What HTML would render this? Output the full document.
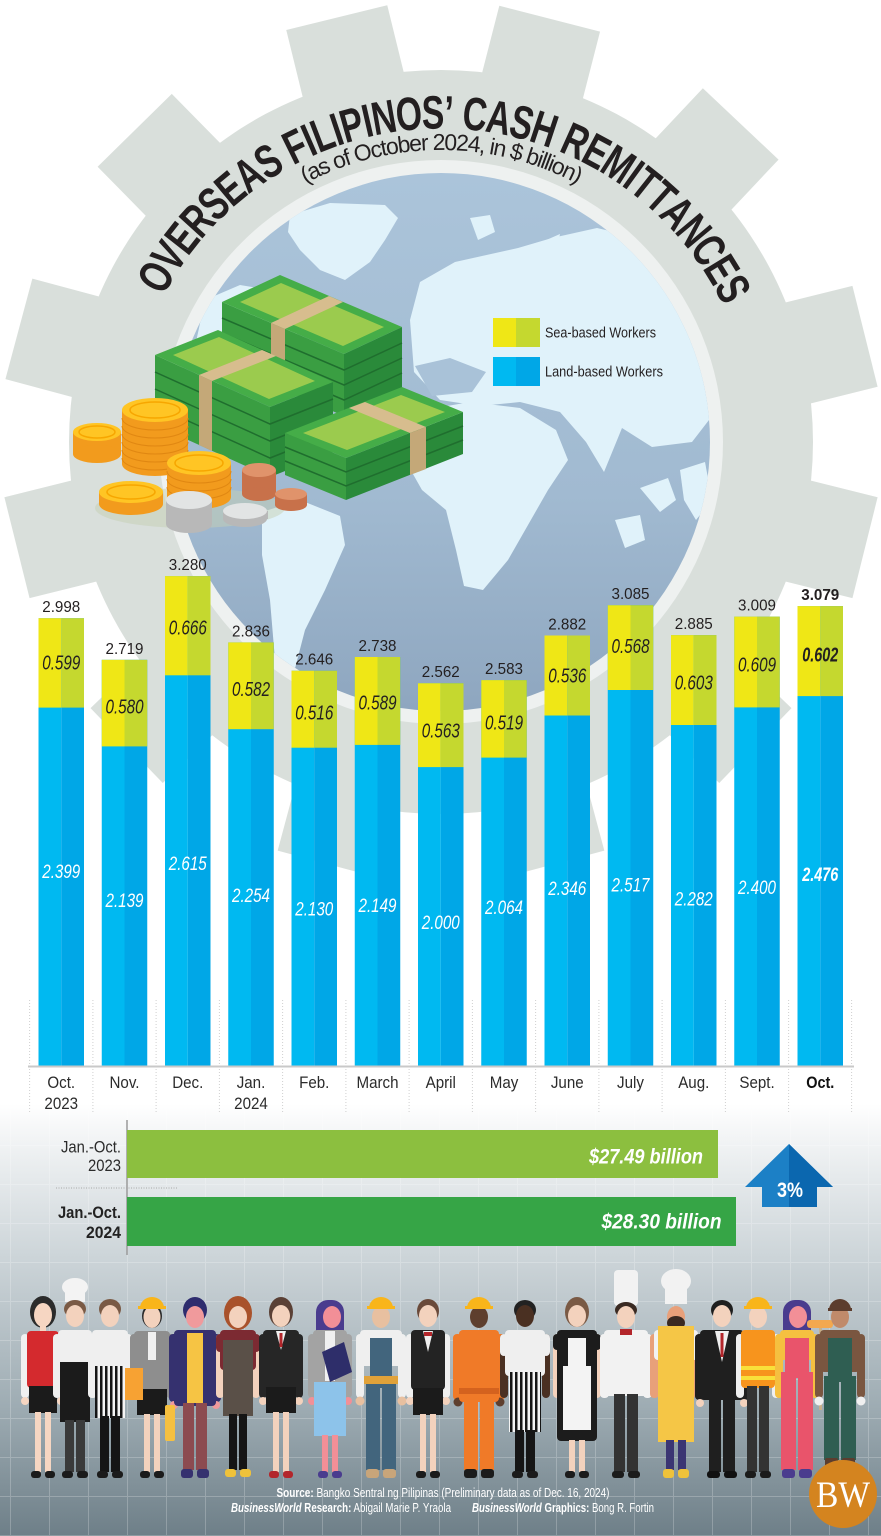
<!DOCTYPE html>
<html><head><meta charset="utf-8">
<style>
html,body{margin:0;padding:0;background:#fff;}
svg{display:block;}
text{font-family:"Liberation Sans",sans-serif;}
</style></head><body>
<svg width="881" height="1536" viewBox="0 0 881 1536" xmlns="http://www.w3.org/2000/svg">
<defs>
 <linearGradient id="bg" x1="0" y1="0" x2="0" y2="1">
  <stop offset="0" stop-color="#ffffff"/>
  <stop offset="0.08" stop-color="#f2f4f5"/>
  <stop offset="0.35" stop-color="#cdd5d9"/>
  <stop offset="0.7" stop-color="#9eacb3"/>
  <stop offset="1" stop-color="#6e7f88"/>
 </linearGradient>
 <pattern id="grid" width="39" height="39" patternUnits="userSpaceOnUse" x="10" y="1106">
  <path d="M0 0.5H39M0.5 0V39" stroke="#ffffff" stroke-opacity="0.22" fill="none"/>
 </pattern>
 <linearGradient id="ocean" x1="0" y1="0" x2="0" y2="1">
  <stop offset="0" stop-color="#abc4da"/>
  <stop offset="0.6" stop-color="#a1bad1"/>
  <stop offset="1" stop-color="#8ea6bf"/>
 </linearGradient>
 <pattern id="stripe" width="5" height="10" patternUnits="userSpaceOnUse"><rect width="5" height="10" fill="#f4f4f4"/><rect width="2.5" height="10" fill="#151515"/></pattern>
 <clipPath id="globeclip"><circle cx="441" cy="442" r="269"/></clipPath>
</defs>

<!-- background -->
<rect x="0" y="0" width="881" height="1536" fill="#ffffff"/>
<rect x="0" y="1104" width="881" height="432" fill="url(#bg)"/>
<rect x="0" y="1104" width="881" height="432" fill="url(#grid)"/>

<!-- gear -->
<g fill="#d9dfdb">
 <circle cx="441" cy="442" r="372"/>
 <rect x="389" y="5" width="104" height="80" transform="rotate(-13.8 441 442)"/>
 <rect x="389" y="5" width="104" height="80" transform="rotate(14.4 441 442)"/>
 <rect x="389" y="5" width="104" height="80" transform="rotate(-44.5 441 442)"/>
 <rect x="389" y="5" width="104" height="80" transform="rotate(43.3 441 442)"/>
 <rect x="389" y="5" width="104" height="80" transform="rotate(-75 441 442)"/>
 <rect x="389" y="5" width="104" height="80" transform="rotate(76 441 442)"/>
 <rect x="389" y="5" width="104" height="80" transform="rotate(-104 441 442)"/>
 <rect x="389" y="5" width="104" height="80" transform="rotate(104 441 442)"/>
 <rect x="389" y="5" width="104" height="80" transform="rotate(-134 441 442)"/>
 <rect x="389" y="5" width="104" height="80" transform="rotate(134 441 442)"/>
 <rect x="389" y="5" width="104" height="80" transform="rotate(-165 441 442)"/>
 <rect x="389" y="5" width="104" height="80" transform="rotate(165 441 442)"/>
</g>
<circle cx="441" cy="442" r="282" fill="#eef1f0"/>
<circle cx="441" cy="442" r="269" fill="url(#ocean)"/>
<g clip-path="url(#globeclip)" fill="#e0f2fa">
 <path d="M420,282 L455,262 L518,248 L552,238 L597,228 L640,238 L675,258 L700,285 L716,330 L709,420 L692,442 L652,447 L622,428 L604,472 L586,442 L560,412 L520,402 L480,406 L440,400 L414,372 L410,320 Z"/>
 <path d="M290,215 L330,203 L385,205 L398,218 L385,240 L370,262 L345,280 L320,270 L300,250 L288,232 Z"/>
 <path d="M205,300 L240,285 L270,290 L290,300 L300,330 L280,360 L250,380 L215,385 L190,370 Z"/>
 <path d="M470,218 L490,215 L495,232 L478,240 Z"/>
 <path d="M535,245 L560,234 L556,254 L540,256 Z"/>
 <path d="M413,412 L470,402 L520,408 L556,430 L568,460 L548,490 L528,525 L508,560 L483,590 L464,586 L456,550 L446,510 L422,490 L405,460 Z"/>
 <path d="M262,512 L300,500 L340,516 L345,545 L325,590 L305,630 L292,680 L283,702 L275,660 L270,600 L262,555 Z"/>
 <path d="M640,488 L668,478 L676,500 L660,512 Z"/>
 <path d="M680,470 L705,462 L712,500 L696,520 L684,500 Z"/>
 <path d="M615,520 L640,515 L645,540 L625,548 Z"/>
</g>
<g clip-path="url(#globeclip)" fill="#a9c2d8">
 <path d="M415,366 L450,358 L486,372 L472,392 L432,396 Z"/>
</g>

<!-- title -->
<g font-size="47" font-weight="bold" fill="#231f20" text-anchor="middle">
 <text transform="rotate(-59.9 441 442) translate(441 128.5) scale(.717 1)">O</text>
 <text transform="rotate(-55.67 441 442) translate(441 128.5) scale(.717 1)">V</text>
 <text transform="rotate(-51.77 441 442) translate(441 128.5) scale(.717 1)">E</text>
 <text transform="rotate(-47.71 441 442) translate(441 128.5) scale(.717 1)">R</text>
 <text transform="rotate(-43.65 441 442) translate(441 128.5) scale(.717 1)">S</text>
 <text transform="rotate(-39.74 441 442) translate(441 128.5) scale(.717 1)">E</text>
 <text transform="rotate(-35.68 441 442) translate(441 128.5) scale(.717 1)">A</text>
 <text transform="rotate(-31.62 441 442) translate(441 128.5) scale(.717 1)">S</text>
 <text transform="rotate(-26.25 441 442) translate(441 128.5) scale(.717 1)">F</text>
 <text transform="rotate(-23.65 441 442) translate(441 128.5) scale(.717 1)">I</text>
 <text transform="rotate(-21.05 441 442) translate(441 128.5) scale(.717 1)">L</text>
 <text transform="rotate(-18.45 441 442) translate(441 128.5) scale(.717 1)">I</text>
 <text transform="rotate(-15.69 441 442) translate(441 128.5) scale(.717 1)">P</text>
 <text transform="rotate(-12.92 441 442) translate(441 128.5) scale(.717 1)">I</text>
 <text transform="rotate(-10.0 441 442) translate(441 128.5) scale(.717 1)">N</text>
 <text transform="rotate(-5.61 441 442) translate(441 128.5) scale(.717 1)">O</text>
 <text transform="rotate(-1.39 441 442) translate(441 128.5) scale(.717 1)">S</text>
 <text transform="rotate(1.38 441 442) translate(441 128.5) scale(.717 1)">’</text>
 <text transform="rotate(5.93 441 442) translate(441 128.5) scale(.717 1)">C</text>
 <text transform="rotate(10.15 441 442) translate(441 128.5) scale(.717 1)">A</text>
 <text transform="rotate(14.22 441 442) translate(441 128.5) scale(.717 1)">S</text>
 <text transform="rotate(18.28 441 442) translate(441 128.5) scale(.717 1)">H</text>
 <text transform="rotate(24.13 441 442) translate(441 128.5) scale(.717 1)">R</text>
 <text transform="rotate(28.19 441 442) translate(441 128.5) scale(.717 1)">E</text>
 <text transform="rotate(32.58 441 442) translate(441 128.5) scale(.717 1)">M</text>
 <text transform="rotate(35.83 441 442) translate(441 128.5) scale(.717 1)">I</text>
 <text transform="rotate(38.43 441 442) translate(441 128.5) scale(.717 1)">T</text>
 <text transform="rotate(42.0 441 442) translate(441 128.5) scale(.717 1)">T</text>
 <text transform="rotate(45.9 441 442) translate(441 128.5) scale(.717 1)">A</text>
 <text transform="rotate(50.13 441 442) translate(441 128.5) scale(.717 1)">N</text>
 <text transform="rotate(54.35 441 442) translate(441 128.5) scale(.717 1)">C</text>
 <text transform="rotate(58.41 441 442) translate(441 128.5) scale(.717 1)">E</text>
 <text transform="rotate(62.32 441 442) translate(441 128.5) scale(.717 1)">S</text>
</g>
<path id="subarc" d="M150 441 A291 291 0 0 1 732 441" fill="none"/>
<text font-size="23" fill="#231f20" letter-spacing="-1.3"><textPath href="#subarc" startOffset="50%" text-anchor="middle">(as of October 2024, in $ billion)</textPath></text>

<!-- legend -->
<rect x="493" y="318" width="23" height="29" fill="#efe716"/><rect x="516" y="318" width="24" height="29" fill="#c5d82f"/>
<rect x="493" y="357" width="23" height="29" fill="#00b9f1"/><rect x="516" y="357" width="24" height="29" fill="#00a7e7"/>
<text x="545" y="337.5" font-size="15" fill="#231f20" textLength="111" lengthAdjust="spacingAndGlyphs">Sea-based Workers</text>
<text x="545" y="376.5" font-size="15" fill="#231f20" textLength="118" lengthAdjust="spacingAndGlyphs">Land-based Workers</text>

<!-- money stacks -->
<g>
 <polygon points="344,354 402,327 402,389 344,416" fill="#2a8a3a"/>
 <polygon points="222,302 344,354 344,416 222,364" fill="#3a9e42"/>
 <g stroke="#1f6e2e" stroke-width="1.5" fill="none">
  <polyline points="222,318 344,370 402,343"/><polyline points="222,333 344,385 402,358"/><polyline points="222,348 344,400 402,373"/>
 </g>
 <polygon points="222,302 280,275 402,327 344,354" fill="#45ad48"/>
 <polygon points="240,302 281,283 384,327 343,346" fill="#9bcb4e"/>
 <polygon points="271,323 285,329 343,302 329,296" fill="#d7bd8e"/>
 <polygon points="271,323 285,329 285,391 271,385" fill="#c4a878"/>
 <polygon points="270,407 333,382 333,452 270,477" fill="#2a8a3a"/>
 <polygon points="155,355 270,407 270,477 155,425" fill="#3a9e42"/>
 <g stroke="#1f6e2e" stroke-width="1.5" fill="none">
  <polyline points="155,372 270,424 333,399"/><polyline points="155,389 270,441 333,416"/><polyline points="155,406 270,458 333,433"/>
 </g>
 <polygon points="155,355 218,330 333,382 270,407" fill="#45ad48"/>
 <polygon points="173,355 219,337 315,381 269,399" fill="#9bcb4e"/>
 <polygon points="199,375 212,381 276,356 262,350" fill="#d7bd8e"/>
 <polygon points="199,375 212,381 212,451 199,445" fill="#c4a878"/>
 <polygon points="346,458 463,412 463,454 346,500" fill="#2a8a3a"/>
 <polygon points="285,433 346,458 346,500 285,475" fill="#3a9e42"/>
 <g stroke="#1f6e2e" stroke-width="1.5" fill="none">
  <polyline points="285,447 346,472 463,426"/><polyline points="285,461 346,486 463,440"/>
 </g>
 <polygon points="285,433 402,387 463,412 346,458" fill="#45ad48"/>
 <polygon points="303,433 401,395 445,412 347,450" fill="#9bcb4e"/>
 <polygon points="349,408 365,402 426,427 410,433" fill="#d7bd8e"/>
 <polygon points="410,433 426,427 426,469 410,475" fill="#c4a878"/>
</g>
<!-- coins -->
<ellipse cx="190" cy="508" rx="95" ry="20" fill="#c5d0b4" opacity="0.5"/>
<g>
 <rect x="122" y="410" width="66" height="54" fill="#f29b1d"/>
 <ellipse cx="155" cy="464" rx="33" ry="12" fill="#f29b1d"/>
 <g stroke="#e08712" stroke-width="1" fill="none">
  <path d="M122 418 A33 12 0 0 0 188 418"/><path d="M122 426 A33 12 0 0 0 188 426"/><path d="M122 434 A33 12 0 0 0 188 434"/><path d="M122 442 A33 12 0 0 0 188 442"/><path d="M122 450 A33 12 0 0 0 188 450"/><path d="M122 458 A33 12 0 0 0 188 458"/>
 </g>
 <ellipse cx="155" cy="410" rx="33" ry="12" fill="#ffc524"/>
 <ellipse cx="155" cy="410" rx="25" ry="8" fill="none" stroke="#f7a600" stroke-width="1.5"/>
 <rect x="73" y="432" width="48" height="22" fill="#f29b1d"/>
 <ellipse cx="97" cy="454" rx="24" ry="9" fill="#f29b1d"/>
 <ellipse cx="97" cy="432" rx="24" ry="9" fill="#ffc524"/>
 <ellipse cx="97" cy="432" rx="18" ry="6" fill="none" stroke="#f7a600" stroke-width="1.5"/>
 <rect x="242" y="470" width="34" height="24" fill="#c8714a"/>
 <ellipse cx="259" cy="494" rx="17" ry="7" fill="#c8714a"/>
 <ellipse cx="259" cy="470" rx="17" ry="7" fill="#e0936b"/>
 <rect x="167" y="463" width="64" height="34" fill="#f29b1d"/>
 <ellipse cx="199" cy="497" rx="32" ry="12" fill="#f29b1d"/>
 <g stroke="#e08712" stroke-width="1" fill="none">
  <path d="M167 471 A32 12 0 0 0 231 471"/><path d="M167 479 A32 12 0 0 0 231 479"/><path d="M167 487 A32 12 0 0 0 231 487"/>
 </g>
 <ellipse cx="199" cy="463" rx="32" ry="12" fill="#ffc524"/>
 <ellipse cx="199" cy="463" rx="24" ry="8" fill="none" stroke="#f7a600" stroke-width="1.5"/>
 <rect x="99" y="492" width="64" height="12" fill="#f29b1d"/>
 <ellipse cx="131" cy="504" rx="32" ry="11" fill="#f29b1d"/>
 <ellipse cx="131" cy="492" rx="32" ry="11" fill="#ffc524"/>
 <ellipse cx="131" cy="492" rx="24" ry="7" fill="none" stroke="#f7a600" stroke-width="1.5"/>
 <rect x="166" y="500" width="46" height="24" fill="#b8b8b8"/>
 <ellipse cx="189" cy="524" rx="23" ry="9" fill="#b8b8b8"/>
 <ellipse cx="189" cy="500" rx="23" ry="9" fill="#e2e4e4"/>
 <rect x="223" y="511" width="45" height="8" fill="#b8b8b8"/>
 <ellipse cx="245" cy="519" rx="22" ry="8" fill="#b8b8b8"/>
 <ellipse cx="245" cy="511" rx="22" ry="8" fill="#e2e4e4"/>
 <rect x="275" y="494" width="32" height="11" fill="#c8714a"/>
 <ellipse cx="291" cy="505" rx="16" ry="6" fill="#c8714a"/>
 <ellipse cx="291" cy="494" rx="16" ry="6" fill="#e0936b"/>
</g>

<!-- dotted separators -->
<g stroke="#cfcfcf" stroke-width="1" stroke-dasharray="1 2">
 <line x1="29.6" y1="1000" x2="29.6" y2="1112"/>
 <line x1="92.9" y1="1000" x2="92.9" y2="1112"/>
 <line x1="156.1" y1="1000" x2="156.1" y2="1112"/>
 <line x1="219.4" y1="1000" x2="219.4" y2="1112"/>
 <line x1="282.6" y1="1000" x2="282.6" y2="1112"/>
 <line x1="345.9" y1="1000" x2="345.9" y2="1112"/>
 <line x1="409.1" y1="1000" x2="409.1" y2="1112"/>
 <line x1="472.4" y1="1000" x2="472.4" y2="1112"/>
 <line x1="535.6" y1="1000" x2="535.6" y2="1112"/>
 <line x1="598.9" y1="1000" x2="598.9" y2="1112"/>
 <line x1="662.1" y1="1000" x2="662.1" y2="1112"/>
 <line x1="725.4" y1="1000" x2="725.4" y2="1112"/>
 <line x1="788.6" y1="1000" x2="788.6" y2="1112"/>
 <line x1="851.6" y1="1000" x2="851.6" y2="1112"/>
</g>

<!-- bars -->
<g>
 <rect x="38.5" y="618.2" width="22.75" height="447.3" fill="#00b9f1"/><rect x="61.25" y="618.2" width="22.75" height="447.3" fill="#00a7e7"/>
 <rect x="38.5" y="618.2" width="22.75" height="89.4" fill="#efe716"/><rect x="61.25" y="618.2" width="22.75" height="89.4" fill="#c5d82f"/>
 <rect x="101.75" y="659.8" width="22.75" height="405.7" fill="#00b9f1"/><rect x="124.5" y="659.8" width="22.75" height="405.7" fill="#00a7e7"/>
 <rect x="101.75" y="659.8" width="22.75" height="86.6" fill="#efe716"/><rect x="124.5" y="659.8" width="22.75" height="86.6" fill="#c5d82f"/>
 <rect x="165" y="576.1" width="22.75" height="489.4" fill="#00b9f1"/><rect x="187.75" y="576.1" width="22.75" height="489.4" fill="#00a7e7"/>
 <rect x="165" y="576.1" width="22.75" height="99.2" fill="#efe716"/><rect x="187.75" y="576.1" width="22.75" height="99.2" fill="#c5d82f"/>
 <rect x="228.25" y="642.4" width="22.75" height="423.1" fill="#00b9f1"/><rect x="251" y="642.4" width="22.75" height="423.1" fill="#00a7e7"/>
 <rect x="228.25" y="642.4" width="22.75" height="86.8" fill="#efe716"/><rect x="251" y="642.4" width="22.75" height="86.8" fill="#c5d82f"/>
 <rect x="291.5" y="670.7" width="22.75" height="394.8" fill="#00b9f1"/><rect x="314.25" y="670.7" width="22.75" height="394.8" fill="#00a7e7"/>
 <rect x="291.5" y="670.7" width="22.75" height="77" fill="#efe716"/><rect x="314.25" y="670.7" width="22.75" height="77" fill="#c5d82f"/>
 <rect x="354.75" y="657" width="22.75" height="408.5" fill="#00b9f1"/><rect x="377.5" y="657" width="22.75" height="408.5" fill="#00a7e7"/>
 <rect x="354.75" y="657" width="22.75" height="87.9" fill="#efe716"/><rect x="377.5" y="657" width="22.75" height="87.9" fill="#c5d82f"/>
 <rect x="418" y="683.2" width="22.75" height="382.3" fill="#00b9f1"/><rect x="440.75" y="683.2" width="22.75" height="382.3" fill="#00a7e7"/>
 <rect x="418" y="683.2" width="22.75" height="83.9" fill="#efe716"/><rect x="440.75" y="683.2" width="22.75" height="83.9" fill="#c5d82f"/>
 <rect x="481.25" y="680.1" width="22.75" height="385.4" fill="#00b9f1"/><rect x="504" y="680.1" width="22.75" height="385.4" fill="#00a7e7"/>
 <rect x="481.25" y="680.1" width="22.75" height="77.5" fill="#efe716"/><rect x="504" y="680.1" width="22.75" height="77.5" fill="#c5d82f"/>
 <rect x="544.5" y="635.5" width="22.75" height="430" fill="#00b9f1"/><rect x="567.25" y="635.5" width="22.75" height="430" fill="#00a7e7"/>
 <rect x="544.5" y="635.5" width="22.75" height="80" fill="#efe716"/><rect x="567.25" y="635.5" width="22.75" height="80" fill="#c5d82f"/>
 <rect x="607.75" y="605.2" width="22.75" height="460.3" fill="#00b9f1"/><rect x="630.5" y="605.2" width="22.75" height="460.3" fill="#00a7e7"/>
 <rect x="607.75" y="605.2" width="22.75" height="84.8" fill="#efe716"/><rect x="630.5" y="605.2" width="22.75" height="84.8" fill="#c5d82f"/>
 <rect x="671" y="635.1" width="22.75" height="430.4" fill="#00b9f1"/><rect x="693.75" y="635.1" width="22.75" height="430.4" fill="#00a7e7"/>
 <rect x="671" y="635.1" width="22.75" height="89.9" fill="#efe716"/><rect x="693.75" y="635.1" width="22.75" height="89.9" fill="#c5d82f"/>
 <rect x="734.25" y="616.6" width="22.75" height="448.9" fill="#00b9f1"/><rect x="757" y="616.6" width="22.75" height="448.9" fill="#00a7e7"/>
 <rect x="734.25" y="616.6" width="22.75" height="90.8" fill="#efe716"/><rect x="757" y="616.6" width="22.75" height="90.8" fill="#c5d82f"/>
 <rect x="797.5" y="606.1" width="22.75" height="459.4" fill="#00b9f1"/><rect x="820.25" y="606.1" width="22.75" height="459.4" fill="#00a7e7"/>
 <rect x="797.5" y="606.1" width="22.75" height="90" fill="#efe716"/><rect x="820.25" y="606.1" width="22.75" height="90" fill="#c5d82f"/>
</g>
<line x1="28" y1="1066.5" x2="854" y2="1066.5" stroke="#c9c9c9" stroke-width="2"/>

<!-- total labels -->
<g font-size="16" fill="#231f20" text-anchor="middle">
 <text transform="translate(61.25 612.2) scale(.95 1)">2.998</text>
 <text transform="translate(124.5 653.8) scale(.95 1)">2.719</text>
 <text transform="translate(187.75 570.1) scale(.95 1)">3.280</text>
 <text transform="translate(251 636.4) scale(.95 1)">2.836</text>
 <text transform="translate(314.25 664.7) scale(.95 1)">2.646</text>
 <text transform="translate(377.5 651) scale(.95 1)">2.738</text>
 <text transform="translate(440.75 677.2) scale(.95 1)">2.562</text>
 <text transform="translate(504 674.1) scale(.95 1)">2.583</text>
 <text transform="translate(567.25 629.5) scale(.95 1)">2.882</text>
 <text transform="translate(630.5 599.2) scale(.95 1)">3.085</text>
 <text transform="translate(693.75 629.1) scale(.95 1)">2.885</text>
 <text transform="translate(757 610.6) scale(.95 1)">3.009</text>
 <text transform="translate(820.25 600.1) scale(.95 1)" font-weight="bold">3.079</text>
</g>
<g font-size="20" font-style="italic" fill="#231f20" text-anchor="middle">
 <text transform="translate(61.25 669.7) scale(.76 1)">0.599</text>
 <text transform="translate(124.5 713.7) scale(.76 1)">0.580</text>
 <text transform="translate(187.75 634.3) scale(.76 1)">0.666</text>
 <text transform="translate(251 696) scale(.76 1)">0.582</text>
 <text transform="translate(314.25 719.7) scale(.76 1)">0.516</text>
 <text transform="translate(377.5 709.7) scale(.76 1)">0.589</text>
 <text transform="translate(440.75 737.7) scale(.76 1)">0.563</text>
 <text transform="translate(504 729.7) scale(.76 1)">0.519</text>
 <text transform="translate(567.25 682.7) scale(.76 1)">0.536</text>
 <text transform="translate(630.5 653) scale(.76 1)">0.568</text>
 <text transform="translate(693.75 689.3) scale(.76 1)">0.603</text>
 <text transform="translate(757 671.7) scale(.76 1)">0.609</text>
 <text transform="translate(820.25 661.3) scale(.72 1)" font-weight="bold">0.602</text>
</g>
<g font-size="19" font-style="italic" fill="#ffffff" text-anchor="middle">
 <text transform="translate(61.25 878.2) scale(.8 1)">2.399</text>
 <text transform="translate(124.5 907.2) scale(.8 1)">2.139</text>
 <text transform="translate(187.75 869.8) scale(.8 1)">2.615</text>
 <text transform="translate(251 902.2) scale(.8 1)">2.254</text>
 <text transform="translate(314.25 915.5) scale(.8 1)">2.130</text>
 <text transform="translate(377.5 912.2) scale(.8 1)">2.149</text>
 <text transform="translate(440.75 929.2) scale(.8 1)">2.000</text>
 <text transform="translate(504 913.8) scale(.8 1)">2.064</text>
 <text transform="translate(567.25 894.8) scale(.8 1)">2.346</text>
 <text transform="translate(630.5 891.5) scale(.8 1)">2.517</text>
 <text transform="translate(693.75 905.5) scale(.8 1)">2.282</text>
 <text transform="translate(757 894.2) scale(.8 1)">2.400</text>
 <text transform="translate(820.25 880.8) scale(.76 1)" font-weight="bold">2.476</text>
</g>

<!-- month labels -->
<g font-size="17" fill="#2b2b2b" text-anchor="middle">
 <text transform="translate(61.25 1088) scale(.89 1)">Oct.</text>
 <text transform="translate(61.25 1109) scale(.89 1)">2023</text>
 <text transform="translate(124.5 1088) scale(.89 1)">Nov.</text>
 <text transform="translate(187.75 1088) scale(.89 1)">Dec.</text>
 <text transform="translate(251 1088) scale(.89 1)">Jan.</text>
 <text transform="translate(251 1109) scale(.89 1)">2024</text>
 <text transform="translate(314.25 1088) scale(.89 1)">Feb.</text>
 <text transform="translate(377.5 1088) scale(.89 1)">March</text>
 <text transform="translate(440.75 1088) scale(.89 1)">April</text>
 <text transform="translate(504 1088) scale(.89 1)">May</text>
 <text transform="translate(567.25 1088) scale(.89 1)">June</text>
 <text transform="translate(630.5 1088) scale(.89 1)">July</text>
 <text transform="translate(693.75 1088) scale(.89 1)">Aug.</text>
 <text transform="translate(757 1088) scale(.89 1)">Sept.</text>
 <text transform="translate(820.25 1088) scale(.85 1)" font-weight="bold" fill="#111">Oct.</text>
</g>

<!-- totals -->
<line x1="127" y1="1120" x2="127" y2="1255" stroke="#9a9a9a" stroke-width="1.5"/>
<line x1="56" y1="1188" x2="178" y2="1188" stroke="#a8a8a8" stroke-width="1" stroke-dasharray="1 1.5"/>
<rect x="127" y="1130" width="591" height="48" fill="#8cbf3f"/>
<rect x="127" y="1197" width="609" height="49" fill="#36a546"/>
<text x="703" y="1163.5" font-size="21" font-weight="bold" font-style="italic" fill="#ffffff" text-anchor="end" textLength="114" lengthAdjust="spacingAndGlyphs">$27.49 billion</text>
<text x="721.5" y="1228.5" font-size="21" font-weight="bold" font-style="italic" fill="#ffffff" text-anchor="end" textLength="120" lengthAdjust="spacingAndGlyphs">$28.30 billion</text>
<g font-size="17" fill="#2b2b2b" text-anchor="end">
 <text x="121" y="1152.5" textLength="60" lengthAdjust="spacingAndGlyphs">Jan.-Oct.</text>
 <text x="121" y="1171" textLength="33" lengthAdjust="spacingAndGlyphs">2023</text>
 <text x="121" y="1218" font-weight="bold" fill="#222" textLength="63" lengthAdjust="spacingAndGlyphs">Jan.-Oct.</text>
 <text x="121" y="1238" font-weight="bold" fill="#222" textLength="35" lengthAdjust="spacingAndGlyphs">2024</text>
</g>
<polygon points="789,1144 745,1187 762,1187 762,1207 817,1207 817,1187 833,1187" fill="#1c80c6"/>
<polygon points="789,1144 789,1207 817,1207 817,1187 833,1187" fill="#0b67af"/>
<text x="790" y="1197" font-size="21" font-weight="bold" fill="#ffffff" text-anchor="middle" textLength="26" lengthAdjust="spacingAndGlyphs">3%</text>

<!-- people -->
<g>
 <g transform="translate(43 0)">
  <ellipse cx="0" cy="1312" rx="13" ry="16" fill="#2b2b2b"/>
  <rect x="-3" y="1325" width="6" height="9" fill="#f6d6c2"/>
  <ellipse cx="0" cy="1315" rx="9" ry="12" fill="#f6d6c2"/>
  <rect x="-22" y="1334" width="8" height="64" rx="4" fill="#f0f0f0"/><rect x="14" y="1334" width="8" height="64" rx="4" fill="#f0f0f0"/>
  <circle cx="-18" cy="1401" r="4" fill="#f6d6c2"/><circle cx="18" cy="1401" r="4" fill="#f6d6c2"/>
  <rect x="-16" y="1331" width="32" height="57" rx="4" fill="#d42a2e"/>
  <rect x="-14" y="1386" width="28" height="27" fill="#1b1b1b"/>
  <rect x="-8" y="1412" width="6" height="60" fill="#f6d6c2"/><rect x="2" y="1412" width="6" height="60" fill="#f6d6c2"/>
  <rect x="-12" y="1471" width="10" height="7" rx="3" fill="#1b1b1b"/><rect x="2" y="1471" width="10" height="7" rx="3" fill="#1b1b1b"/>
 </g>
 <g transform="translate(75 0)">
  <rect x="-10" y="1286" width="20" height="16" fill="#f3f3f3"/><ellipse cx="0" cy="1287" rx="13" ry="9" fill="#f3f3f3"/>
  <ellipse cx="0" cy="1309" rx="11" ry="9" fill="#7a5a45"/>
  <ellipse cx="0" cy="1316" rx="9" ry="11" fill="#f3d2bd"/>
  <rect x="-22" y="1334" width="8" height="64" rx="4" fill="#efefef"/><rect x="14" y="1334" width="8" height="64" rx="4" fill="#efefef"/>
  <rect x="-17" y="1330" width="34" height="42" rx="4" fill="#efefef"/>
  <rect x="-15" y="1362" width="30" height="60" fill="#1b1b1b"/>
  <rect x="-10" y="1420" width="9" height="52" fill="#3a3a3a"/><rect x="1" y="1420" width="9" height="52" fill="#3a3a3a"/>
  <rect x="-13" y="1471" width="11" height="7" rx="3" fill="#1b1b1b"/><rect x="2" y="1471" width="11" height="7" rx="3" fill="#1b1b1b"/>
 </g>
 <g transform="translate(110 0)">
  <ellipse cx="0" cy="1309" rx="11" ry="10" fill="#7a5a45"/>
  <ellipse cx="0" cy="1316" rx="9" ry="11" fill="#f3d2bd"/>
  <rect x="-22" y="1334" width="8" height="64" rx="4" fill="#efefef"/><rect x="14" y="1334" width="8" height="64" rx="4" fill="#efefef"/>
  <rect x="-18" y="1330" width="36" height="40" rx="4" fill="#efefef"/>
  <rect x="-15" y="1366" width="30" height="52" fill="url(#stripe)"/>
  <rect x="-10" y="1416" width="9" height="56" fill="#151515"/><rect x="1" y="1416" width="9" height="56" fill="#151515"/>
  <rect x="-13" y="1471" width="11" height="7" rx="3" fill="#1b1b1b"/><rect x="2" y="1471" width="11" height="7" rx="3" fill="#1b1b1b"/>
 </g>
 <g transform="translate(152 0)">
  <ellipse cx="0" cy="1316" rx="10" ry="12" fill="#2b2b2b"/>
  <ellipse cx="0" cy="1317" rx="8.5" ry="11" fill="#f3d2bd"/>
  <path d="M-12 1308 A12 11 0 0 1 12 1308 Z" fill="#f9b51a"/><rect x="-14" y="1306" width="28" height="3" fill="#f9b51a"/>
  <rect x="-22" y="1334" width="8" height="64" rx="4" fill="#8e8e8e"/><rect x="14" y="1334" width="8" height="64" rx="4" fill="#8e8e8e"/>
  <rect x="-18" y="1331" width="36" height="60" rx="4" fill="#8e8e8e"/>
  <rect x="-4" y="1332" width="8" height="28" fill="#f0f0f0"/>
  <rect x="-15" y="1389" width="30" height="26" fill="#1b1b1b"/>
  <rect x="-8" y="1414" width="6" height="58" fill="#f3d2bd"/><rect x="2" y="1414" width="6" height="58" fill="#f3d2bd"/>
  <rect x="-12" y="1471" width="10" height="7" rx="3" fill="#1b1b1b"/><rect x="2" y="1471" width="10" height="7" rx="3" fill="#1b1b1b"/>
  <rect x="-27" y="1368" width="18" height="32" fill="#f7a233"/>
 </g>
 <g transform="translate(195 0)">
  <ellipse cx="0" cy="1310" rx="12" ry="13" fill="#2e2c6e"/>
  <ellipse cx="0" cy="1317" rx="9" ry="11" fill="#f09a9c"/>
  <rect x="-26" y="1334" width="9" height="68" rx="4" fill="#35316f"/><rect x="17" y="1334" width="9" height="68" rx="4" fill="#35316f"/>
  <circle cx="-21" cy="1405" r="4" fill="#f09a9c"/><circle cx="21" cy="1405" r="4" fill="#f09a9c"/>
  <rect x="-21" y="1330" width="42" height="76" rx="4" fill="#35316f"/>
  <rect x="-8" y="1333" width="16" height="70" fill="#f6c444"/>
  <rect x="-12" y="1403" width="11" height="67" fill="#8c4b50"/><rect x="1" y="1403" width="11" height="67" fill="#8c4b50"/>
  <rect x="-14" y="1469" width="12" height="9" rx="3" fill="#35316f"/><rect x="2" y="1469" width="12" height="9" rx="3" fill="#35316f"/>
  <rect x="-30" y="1405" width="10" height="36" rx="2" fill="#f5c040"/>
 </g>
 <g transform="translate(238 0)">
  <ellipse cx="0" cy="1313" rx="14" ry="17" fill="#a9522b"/>
  <ellipse cx="0" cy="1317" rx="9" ry="11" fill="#f3d2bd"/>
  <rect x="-22" y="1334" width="8" height="64" rx="4" fill="#f3d2bd"/><rect x="14" y="1334" width="8" height="64" rx="4" fill="#f3d2bd"/>
  <rect x="-22" y="1334" width="8" height="18" rx="4" fill="#7c2a32"/><rect x="14" y="1334" width="8" height="18" rx="4" fill="#7c2a32"/>
  <rect x="-18" y="1330" width="36" height="40" rx="4" fill="#7c2a32"/>
  <rect x="-15" y="1340" width="30" height="76" fill="#5a5048"/>
  <rect x="-9" y="1414" width="8" height="56" fill="#151515"/><rect x="1" y="1414" width="8" height="56" fill="#151515"/>
  <rect x="-13" y="1469" width="11" height="8" rx="3" fill="#efc23a"/><rect x="2" y="1469" width="11" height="8" rx="3" fill="#efc23a"/>
 </g>
 <g transform="translate(281 0)">
  <ellipse cx="0" cy="1312" rx="12" ry="15" fill="#5a4035"/>
  <ellipse cx="0" cy="1316" rx="9" ry="11" fill="#f3d2bd"/>
  <rect x="-22" y="1334" width="8" height="64" rx="4" fill="#262626"/><rect x="14" y="1334" width="8" height="64" rx="4" fill="#262626"/>
  <circle cx="-18" cy="1401" r="4" fill="#f3d2bd"/><circle cx="18" cy="1401" r="4" fill="#f3d2bd"/>
  <rect x="-18" y="1330" width="36" height="58" rx="4" fill="#262626"/>
  <polygon points="-5,1331 5,1331 0,1350" fill="#f0f0f0"/><rect x="-1.5" y="1333" width="3" height="14" fill="#b3262b"/>
  <rect x="-15" y="1387" width="30" height="26" fill="#1b1b1b"/>
  <rect x="-8" y="1412" width="6" height="60" fill="#f3d2bd"/><rect x="2" y="1412" width="6" height="60" fill="#f3d2bd"/>
  <rect x="-12" y="1471" width="10" height="7" rx="3" fill="#b3262b"/><rect x="2" y="1471" width="10" height="7" rx="3" fill="#b3262b"/>
 </g>
 <g transform="translate(330 0)">
  <rect x="-14" y="1300" width="28" height="50" rx="12" fill="#4a3c8e"/>
  <ellipse cx="2" cy="1317" rx="9" ry="11" fill="#f28f97"/>
  <rect x="-22" y="1334" width="8" height="64" rx="4" fill="#a3a3a3"/><rect x="14" y="1334" width="8" height="64" rx="4" fill="#a3a3a3"/>
  <circle cx="-18" cy="1401" r="4" fill="#f28f97"/><circle cx="18" cy="1401" r="4" fill="#f28f97"/>
  <rect x="-17" y="1330" width="34" height="54" rx="4" fill="#a3a3a3"/>
  <rect x="-5" y="1331" width="10" height="50" fill="#f0f0f0"/>
  <rect x="-16" y="1382" width="32" height="54" fill="#8dc3ea"/>
  <rect x="-8" y="1435" width="6" height="37" fill="#f28f97"/><rect x="2" y="1435" width="6" height="37" fill="#f28f97"/>
  <rect x="-12" y="1471" width="10" height="7" rx="3" fill="#4a3c8e"/><rect x="2" y="1471" width="10" height="7" rx="3" fill="#4a3c8e"/>
  <polygon points="-8,1352 14,1342 22,1372 0,1382" fill="#2e2e6a"/>
 </g>
 <g transform="translate(381 0)">
  <ellipse cx="0" cy="1317" rx="9" ry="11" fill="#e8c0a0"/>
  <path d="M-12 1308 A12 11 0 0 1 12 1308 Z" fill="#f9b51a"/><rect x="-14" y="1306" width="28" height="3" fill="#f9b51a"/>
  <rect x="-25" y="1334" width="8" height="64" rx="4" fill="#efefef"/><rect x="17" y="1334" width="8" height="64" rx="4" fill="#efefef"/>
  <circle cx="-21" cy="1401" r="4.5" fill="#e8c0a0"/><circle cx="21" cy="1401" r="4.5" fill="#e8c0a0"/>
  <rect x="-21" y="1330" width="42" height="36" rx="4" fill="#efefef"/>
  <rect x="-11" y="1338" width="22" height="50" fill="#42657d"/>
  <rect x="-15" y="1380" width="14" height="90" fill="#42657d"/><rect x="1" y="1380" width="14" height="90" fill="#42657d"/>
  <rect x="-17" y="1376" width="34" height="8" fill="#e0a23a"/>
  <rect x="-15" y="1469" width="13" height="9" rx="3" fill="#c8a57a"/><rect x="2" y="1469" width="13" height="9" rx="3" fill="#c8a57a"/>
 </g>
 <g transform="translate(428 0)">
  <ellipse cx="0" cy="1311" rx="11" ry="12" fill="#6a4a3a"/>
  <ellipse cx="0" cy="1316" rx="9" ry="11" fill="#f3d2bd"/>
  <rect x="-22" y="1334" width="8" height="64" rx="4" fill="#efefef"/><rect x="14" y="1334" width="8" height="64" rx="4" fill="#efefef"/>
  <circle cx="-18" cy="1401" r="4" fill="#f3d2bd"/><circle cx="18" cy="1401" r="4" fill="#f3d2bd"/>
  <rect x="-17" y="1330" width="34" height="60" rx="4" fill="#232323"/>
  <polygon points="-5,1331 5,1331 0,1352" fill="#f0f0f0"/>
  <rect x="-4" y="1332" width="8" height="4" fill="#b3262b"/>
  <rect x="-15" y="1388" width="30" height="27" fill="#1b1b1b"/>
  <rect x="-8" y="1414" width="6" height="58" fill="#f3d2bd"/><rect x="2" y="1414" width="6" height="58" fill="#f3d2bd"/>
  <rect x="-12" y="1471" width="10" height="7" rx="3" fill="#1b1b1b"/><rect x="2" y="1471" width="10" height="7" rx="3" fill="#1b1b1b"/>
 </g>
 <g transform="translate(479 0)">
  <ellipse cx="0" cy="1317" rx="9" ry="11" fill="#5e3f2e"/>
  <path d="M-12 1308 A12 11 0 0 1 12 1308 Z" fill="#f9b51a"/><rect x="-14" y="1306" width="28" height="3" fill="#f9b51a"/>
  <rect x="-26" y="1334" width="9" height="66" rx="4" fill="#f07a28"/><rect x="17" y="1334" width="9" height="66" rx="4" fill="#f07a28"/>
  <circle cx="-21" cy="1402" r="4.5" fill="#5e3f2e"/><circle cx="21" cy="1402" r="4.5" fill="#5e3f2e"/>
  <rect x="-20" y="1330" width="40" height="72" rx="4" fill="#f07a28"/>
  <rect x="-20" y="1388" width="40" height="6" fill="#d4621e"/>
  <rect x="-15" y="1398" width="14" height="72" fill="#f07a28"/><rect x="1" y="1398" width="14" height="72" fill="#f07a28"/>
  <rect x="-15" y="1469" width="13" height="9" rx="3" fill="#1b1b1b"/><rect x="2" y="1469" width="13" height="9" rx="3" fill="#1b1b1b"/>
 </g>
 <g transform="translate(525 0)">
  <ellipse cx="0" cy="1310" rx="11" ry="10" fill="#222"/>
  <ellipse cx="0" cy="1316" rx="9" ry="11" fill="#4a3022"/>
  <rect x="-25" y="1334" width="8" height="64" rx="4" fill="#4a3022"/><rect x="17" y="1334" width="8" height="64" rx="4" fill="#4a3022"/>
  <rect x="-25" y="1334" width="8" height="22" rx="4" fill="#efefef"/><rect x="17" y="1334" width="8" height="22" rx="4" fill="#efefef"/>
  <rect x="-20" y="1330" width="40" height="46" rx="4" fill="#efefef"/>
  <rect x="-16" y="1372" width="32" height="60" fill="url(#stripe)"/>
  <rect x="-10" y="1430" width="9" height="42" fill="#151515"/><rect x="1" y="1430" width="9" height="42" fill="#151515"/>
  <rect x="-13" y="1471" width="11" height="7" rx="3" fill="#1b1b1b"/><rect x="2" y="1471" width="11" height="7" rx="3" fill="#1b1b1b"/>
 </g>
 <g transform="translate(577 0)">
  <ellipse cx="0" cy="1312" rx="12" ry="15" fill="#7a5a45"/>
  <ellipse cx="0" cy="1316" rx="9" ry="11" fill="#f3d2bd"/>
  <rect x="-24" y="1334" width="8" height="64" rx="4" fill="#f3d2bd"/><rect x="16" y="1334" width="8" height="64" rx="4" fill="#f3d2bd"/>
  <rect x="-24" y="1334" width="8" height="16" rx="4" fill="#1c1c1c"/><rect x="16" y="1334" width="8" height="16" rx="4" fill="#1c1c1c"/>
  <rect x="-20" y="1330" width="40" height="111" rx="4" fill="#1c1c1c"/>
  <rect x="-9" y="1338" width="18" height="30" fill="#f3f3f3"/>
  <rect x="-14" y="1366" width="28" height="64" fill="#f3f3f3"/>
  <rect x="-8" y="1440" width="6" height="32" fill="#f3d2bd"/><rect x="2" y="1440" width="6" height="32" fill="#f3d2bd"/>
  <rect x="-12" y="1471" width="10" height="7" rx="3" fill="#1b1b1b"/><rect x="2" y="1471" width="10" height="7" rx="3" fill="#1b1b1b"/>
 </g>
 <g transform="translate(626 0)">
  <rect x="-12" y="1270" width="24" height="36" rx="4" fill="#f2f2f2"/>
  <ellipse cx="0" cy="1310" rx="11" ry="8" fill="#3a2a22"/>
  <ellipse cx="0" cy="1317" rx="9" ry="11" fill="#f3d2bd"/>
  <rect x="-26" y="1334" width="9" height="64" rx="4" fill="#f2f2f2"/><rect x="17" y="1334" width="9" height="64" rx="4" fill="#f2f2f2"/>
  <rect x="-22" y="1330" width="44" height="66" rx="4" fill="#f2f2f2"/>
  <rect x="-6" y="1329" width="12" height="6" fill="#b3262b"/>
  <rect x="-12" y="1394" width="11" height="78" fill="#333"/><rect x="1" y="1394" width="11" height="78" fill="#333"/>
  <rect x="-14" y="1471" width="12" height="7" rx="3" fill="#1b1b1b"/><rect x="2" y="1471" width="12" height="7" rx="3" fill="#1b1b1b"/>
 </g>
 <g transform="translate(676 0)">
  <rect x="-11" y="1280" width="22" height="24" fill="#f2f2f2"/><ellipse cx="0" cy="1281" rx="15" ry="12" fill="#f2f2f2"/>
  <ellipse cx="0" cy="1317" rx="9" ry="11" fill="#e8a07a"/>
  <ellipse cx="0" cy="1323" rx="9" ry="7" fill="#3a2a22"/>
  <rect x="-26" y="1334" width="9" height="64" rx="4" fill="#e8a07a"/><rect x="17" y="1334" width="9" height="64" rx="4" fill="#e8a07a"/>
  <rect x="-22" y="1330" width="44" height="30" rx="4" fill="#f2f2f2"/>
  <rect x="-18" y="1326" width="36" height="116" fill="#f5c646"/>
  <rect x="-10" y="1440" width="8" height="30" fill="#3b3573"/><rect x="2" y="1440" width="8" height="30" fill="#3b3573"/>
  <rect x="-13" y="1469" width="11" height="9" rx="3" fill="#efc23a"/><rect x="2" y="1469" width="11" height="9" rx="3" fill="#efc23a"/>
 </g>
 <g transform="translate(722 0)">
  <ellipse cx="0" cy="1310" rx="11" ry="10" fill="#1f1f1f"/>
  <ellipse cx="0" cy="1316" rx="9" ry="11" fill="#f3d2bd"/>
  <rect x="-27" y="1334" width="9" height="66" rx="4" fill="#1f1f1f"/><rect x="18" y="1334" width="9" height="66" rx="4" fill="#1f1f1f"/>
  <circle cx="-22" cy="1403" r="4" fill="#f3d2bd"/><circle cx="22" cy="1403" r="4" fill="#f3d2bd"/>
  <rect x="-22" y="1330" width="44" height="70" rx="4" fill="#1f1f1f"/>
  <polygon points="-7,1331 7,1331 0,1362" fill="#f0f0f0"/><rect x="-1.5" y="1333" width="3" height="24" fill="#b3262b"/>
  <rect x="-13" y="1398" width="12" height="74" fill="#1f1f1f"/><rect x="1" y="1398" width="12" height="74" fill="#1f1f1f"/>
  <rect x="-15" y="1471" width="13" height="7" rx="3" fill="#111"/><rect x="2" y="1471" width="13" height="7" rx="3" fill="#111"/>
 </g>
 <g transform="translate(758 0)">
  <ellipse cx="0" cy="1317" rx="9" ry="11" fill="#f3d2bd"/>
  <path d="M-12 1308 A12 11 0 0 1 12 1308 Z" fill="#f9b51a"/><rect x="-14" y="1306" width="28" height="3" fill="#f9b51a"/>
  <rect x="-22" y="1334" width="8" height="64" rx="4" fill="#efefef"/><rect x="14" y="1334" width="8" height="64" rx="4" fill="#efefef"/>
  <rect x="-17" y="1330" width="34" height="58" rx="4" fill="#f7941d"/>
  <rect x="-17" y="1366" width="34" height="4" fill="#f9e03a"/><rect x="-17" y="1376" width="34" height="4" fill="#f9e03a"/>
  <rect x="-11" y="1386" width="10" height="86" fill="#333"/><rect x="1" y="1386" width="10" height="86" fill="#333"/>
  <rect x="-13" y="1471" width="11" height="7" rx="3" fill="#1b1b1b"/><rect x="2" y="1471" width="11" height="7" rx="3" fill="#1b1b1b"/>
 </g>
 <g transform="translate(797 0)">
  <rect x="-14" y="1300" width="28" height="50" rx="12" fill="#4a3c8e"/>
  <ellipse cx="1" cy="1317" rx="9" ry="11" fill="#f28f97"/>
  <rect x="-22" y="1334" width="8" height="64" rx="4" fill="#f5c040"/><rect x="14" y="1334" width="8" height="64" rx="4" fill="#f5c040"/>
  <rect x="-17" y="1330" width="34" height="30" rx="4" fill="#f5c040"/>
  <rect x="-12" y="1338" width="24" height="40" fill="#e9546b"/>
  <rect x="-16" y="1372" width="15" height="98" fill="#e9546b"/><rect x="1" y="1372" width="15" height="98" fill="#e9546b"/>
  <rect x="-15" y="1469" width="13" height="9" rx="3" fill="#4a3c8e"/><rect x="2" y="1469" width="13" height="9" rx="3" fill="#4a3c8e"/>
  <rect x="22" y="1326" width="3" height="84" fill="#c8b08a"/><rect x="10" y="1320" width="26" height="8" rx="3" fill="#f3a84f"/>
 </g>
 <g transform="translate(840 0)">
  <ellipse cx="0" cy="1317" rx="9" ry="11" fill="#c08a6a"/>
  <path d="M-11 1310 A11 11 0 0 1 11 1310 Z" fill="#5c3d2e"/><rect x="-12" y="1308" width="24" height="3" fill="#5c3d2e"/>
  <rect x="-25" y="1334" width="8" height="64" rx="4" fill="#7a5640"/><rect x="17" y="1334" width="8" height="64" rx="4" fill="#7a5640"/>
  <circle cx="-21" cy="1401" r="4.5" fill="#f0f0f0"/><circle cx="21" cy="1401" r="4.5" fill="#f0f0f0"/>
  <rect x="-20" y="1330" width="40" height="42" rx="4" fill="#7a5640"/>
  <rect x="-12" y="1338" width="24" height="44" fill="#2f5e52"/>
  <rect x="-16" y="1376" width="15" height="84" fill="#2f5e52"/><rect x="1" y="1376" width="15" height="84" fill="#2f5e52"/>
  <rect x="-15" y="1458" width="13" height="20" rx="2" fill="#5c3d2e"/><rect x="2" y="1458" width="13" height="20" rx="2" fill="#5c3d2e"/>
 </g>
</g>

<!-- source -->
<text x="443" y="1497" font-size="13" fill="#ffffff" text-anchor="middle" textLength="333" lengthAdjust="spacingAndGlyphs"><tspan font-weight="bold">Source:</tspan> Bangko Sentral ng Pilipinas (Preliminary data as of Dec. 16, 2024)</text>
<text x="231" y="1512" font-size="13" fill="#ffffff" textLength="220" lengthAdjust="spacingAndGlyphs"><tspan font-weight="bold" font-style="italic">BusinessWorld</tspan><tspan font-weight="bold"> Research:</tspan> Abigail Marie P. Yraola</text>
<text x="472" y="1512" font-size="13" fill="#ffffff" textLength="182" lengthAdjust="spacingAndGlyphs"><tspan font-weight="bold" font-style="italic">BusinessWorld</tspan><tspan font-weight="bold"> Graphics:</tspan> Bong R. Fortin</text>

<!-- BW logo -->
<circle cx="843" cy="1494" r="34" fill="#d4841f"/>
<text x="843" y="1507" style="font-family:'Liberation Serif',serif" font-size="37" fill="#ffffff" text-anchor="middle" textLength="54" lengthAdjust="spacingAndGlyphs">BW</text>
</svg>
</body></html>
